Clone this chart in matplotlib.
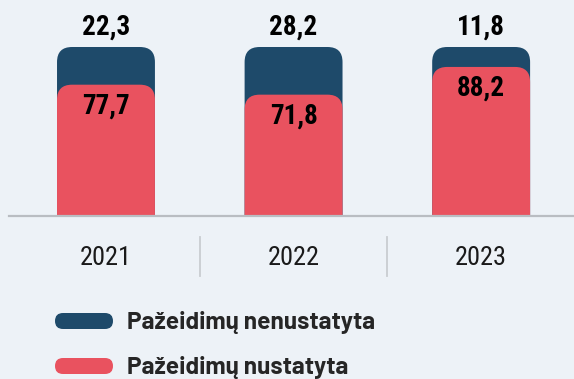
import matplotlib.pyplot as plt
from matplotlib.patches import FancyBboxPatch

years = ['2021', '2022', '2023']
nustatyta = [77.7, 71.8, 88.2]
nenustatyta = [22.3, 28.2, 11.8]
labels = ['Pažeidimų nenustatyta', 'Pažeidimų nustatyta']

BG = '#edf2f7'
DARK = '#1e4a6a'
RED = '#e9525f'
FONT = ['Roboto Condensed', 'DejaVu Sans']
LEG_FONT = ['Barlow', 'DejaVu Sans']

W, H = 574, 379
fig = plt.figure(figsize=(W / 100, H / 100), dpi=100, facecolor=BG)

# main axes: baseline at y=216px, 100% at y=47px
ax = fig.add_axes([9 / W, (H - 216) / H, 1 - 9 / W, 169 / H])
ax.set_facecolor(BG)
ax.set_xlim(-0.517, 2.495)
ax.set_ylim(0, 100)
ax.axis('off')

px_x = 565 / (2.495 + 0.517)   # pixels per x unit
px_y = 169 / 100               # pixels per y unit
aspect = px_x / px_y
bw = 0.522
rad = 15 / px_x


def rounded_bar(x, top, color, z):
    # box reaches below 0 so only the upper corners stay visible after clipping
    p = FancyBboxPatch((x - bw / 2, -30), bw, top + 30,
                       boxstyle=f'round,pad=0,rounding_size={rad}',
                       mutation_aspect=aspect, fc=color, ec='none', zorder=z)
    ax.add_patch(p)


for i, yr in enumerate(years):
    total = nustatyta[i] + nenustatyta[i]
    rounded_bar(i, total, DARK, 2)
    rounded_bar(i, nustatyta[i], RED, 3)
    ax.text(i, total + 20 / px_y, f'{nenustatyta[i]:.1f}'.replace('.', ','),
            ha='center', va='center', fontsize=19.5, fontweight='bold',
            family=FONT, color='black', clip_on=False)
    ax.text(i, nustatyta[i] - 21 / px_y, f'{nustatyta[i]:.1f}'.replace('.', ','),
            ha='center', va='center', fontsize=19.5, fontweight='bold',
            family=FONT, color='black', zorder=5)
    ax.text(i, -42 / px_y, yr, ha='center', va='center', fontsize=19,
            family=FONT, color='#1a1a1a', clip_on=False)

ax.axhline(0, color='#b9bdc2', lw=1.6, zorder=6, clip_on=False)
for xs in [0.5, 1.5]:
    ax.plot([xs, xs], [-21 / px_y, -60 / px_y], color='#c9cdd1', lw=1.3,
            clip_on=False)

# legend drawn in pixel coordinates
lg = fig.add_axes([0, 0, 1, 1])
lg.set_xlim(0, W)
lg.set_ylim(H, 0)
lg.axis('off')
lg.patch.set_alpha(0)
for color, text, yc in [(DARK, labels[0], 321), (RED, labels[1], 366)]:
    lg.add_patch(FancyBboxPatch((55, yc - 8), 58, 16,
                                boxstyle='round,pad=0,rounding_size=8',
                                fc=color, ec='none'))
    lg.text(127, yc + 8, text, ha='left', va='baseline', fontsize=17.5,
            fontweight='bold', family=LEG_FONT, color='#262626')

fig.savefig('out.png', dpi=100, facecolor=BG)
